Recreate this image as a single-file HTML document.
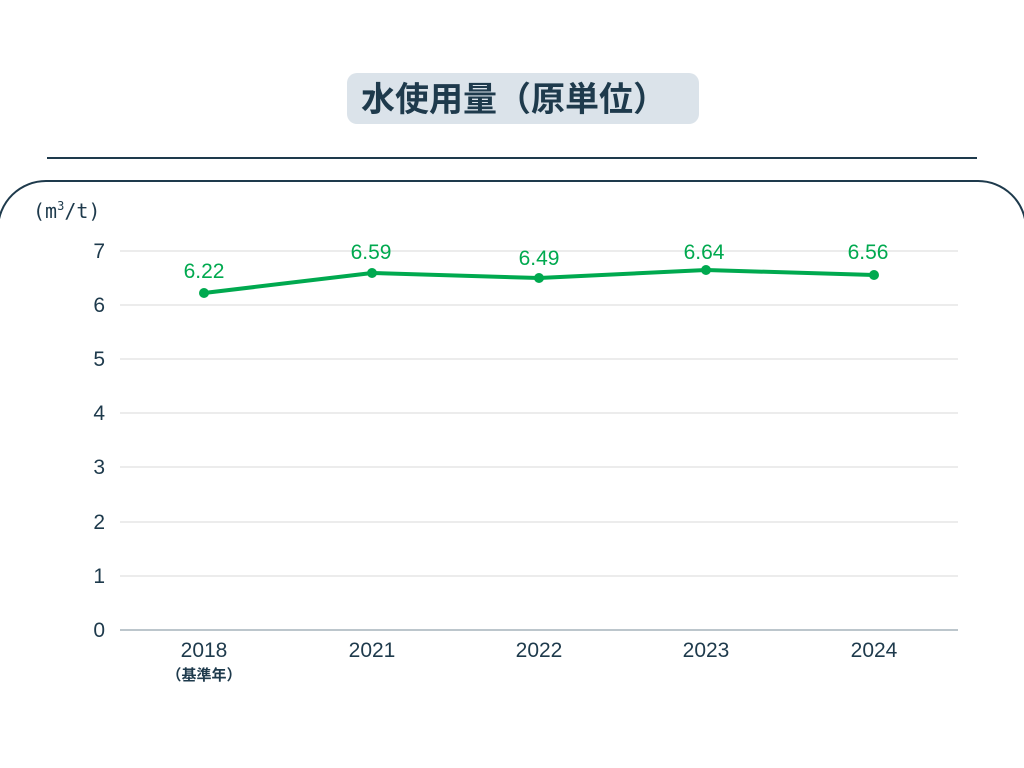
<!DOCTYPE html>
<html><head><meta charset="utf-8"><style>
body{margin:0;width:1024px;height:768px;background:#fff;overflow:hidden;font-family:"Liberation Sans","Noto Sans CJK JP",sans-serif}
</style></head><body>
<svg width="1024" height="768" xmlns="http://www.w3.org/2000/svg" style="position:absolute;left:0;top:0">
<rect x="347" y="73" width="352" height="51" rx="10" fill="#dbe3ea"/>
<text x="514" y="111" text-anchor="middle" font-size="34" font-weight="bold" fill="#1e3a4c" font-family="Liberation Sans, Noto Sans CJK JP, sans-serif">水使用量（原単位）</text>
<line x1="47" y1="158" x2="977" y2="158" stroke="#1e3a4c" stroke-width="2"/>
<path d="M-2 228 A48 48 0 0 1 46 181 L978 181 A48 48 0 0 1 1026 228" fill="none" stroke="#1e3a4c" stroke-width="2"/>
<text x="33" y="218" font-size="20" fill="#1e3a4c" font-family="DejaVu Sans Mono, monospace">(m<tspan font-size="12" dy="-8">3</tspan><tspan dy="8">/t)</tspan></text>
<g stroke="#d8d8d8" stroke-width="1">
<line x1="120" y1="251" x2="958" y2="251"/><line x1="120" y1="305" x2="958" y2="305"/>
<line x1="120" y1="359" x2="958" y2="359"/><line x1="120" y1="413" x2="958" y2="413"/>
<line x1="120" y1="467" x2="958" y2="467"/><line x1="120" y1="522" x2="958" y2="522"/>
<line x1="120" y1="576" x2="958" y2="576"/>
</g>
<line x1="120" y1="630" x2="958" y2="630" stroke="#7a8c9a" stroke-width="1"/>
<g font-size="21" fill="#1e3a4c" text-anchor="end">
<text x="105" y="258">7</text><text x="105" y="312">6</text><text x="105" y="366">5</text>
<text x="105" y="420">4</text><text x="105" y="474">3</text><text x="105" y="529">2</text>
<text x="105" y="583">1</text><text x="105" y="637">0</text>
</g>
<g font-size="21" fill="#1e3a4c" text-anchor="middle">
<text x="204" y="657">2018</text><text x="372" y="657">2021</text><text x="539" y="657">2022</text>
<text x="706" y="657">2023</text><text x="874" y="657">2024</text>
</g>
<text x="204" y="680" text-anchor="middle" font-size="15" font-weight="bold" fill="#1e3a4c">（基準年）</text>
<polyline points="204,293 372,273 539,278 706,270 874,275" fill="none" stroke="#00a94f" stroke-width="4" stroke-linejoin="round"/>
<g fill="#00a94f">
<circle cx="204" cy="293" r="5"/><circle cx="372" cy="273" r="5"/><circle cx="539" cy="278" r="5"/>
<circle cx="706" cy="270" r="5"/><circle cx="874" cy="275" r="5"/>
</g>
<g font-size="21" fill="#00a94f" text-anchor="middle">
<text x="204" y="278">6.22</text><text x="371" y="259">6.59</text><text x="539" y="265">6.49</text>
<text x="704" y="259">6.64</text><text x="868" y="259">6.56</text>
</g>
</svg>
</body></html>
